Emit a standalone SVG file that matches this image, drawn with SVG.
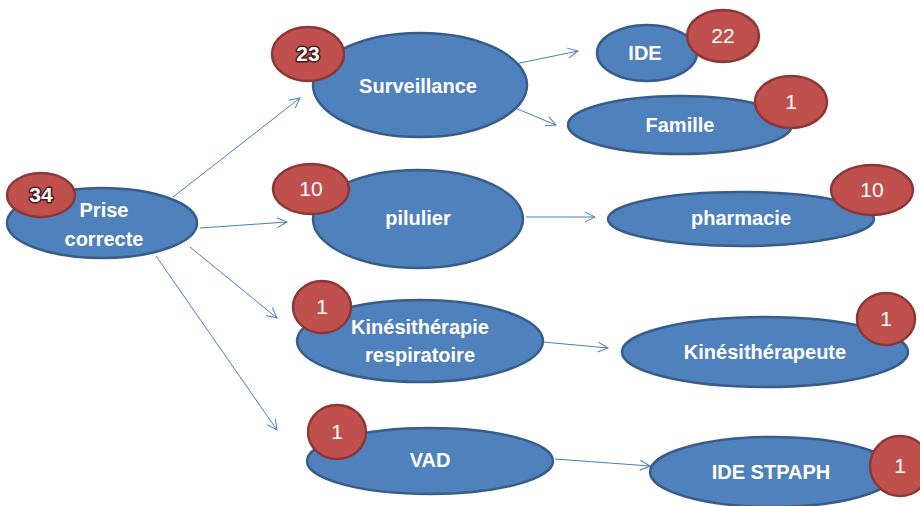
<svg xmlns="http://www.w3.org/2000/svg" width="920" height="506" viewBox="0 0 920 506">
<defs>
<style>
.n{fill:#4f81bd;stroke:#385d8a;stroke-width:2.5}
.b{fill:#c0504d;stroke:#8c3836;stroke-width:2.5}
.t{font-family:"Liberation Sans",Arial,sans-serif;font-weight:bold;font-size:20px;fill:#fff;text-anchor:middle}
.c{font-family:"Liberation Sans",Arial,sans-serif;font-size:21px;fill:#fff;text-anchor:middle}
.cb{font-family:"Liberation Sans",Arial,sans-serif;font-weight:bold;font-size:21px;fill:#fff;text-anchor:middle;stroke:#4a1a19;stroke-width:3;paint-order:stroke;stroke-linejoin:round}
.e{stroke:#4a7ebb;stroke-width:1;fill:none;marker-end:url(#a)}
</style>
<marker id="a" viewBox="0 0 12 12" refX="11" refY="6" markerWidth="12" markerHeight="12" markerUnits="userSpaceOnUse" orient="auto">
<path d="M1,1 L11,6 L1,11" fill="none" stroke="#4a7ebb" stroke-width="1"/>
</marker>
</defs>
<rect width="920" height="506" fill="#fff"/>
<g id="connectors">
<line class="e" x1="173" y1="197" x2="300" y2="98"/>
<line class="e" x1="200" y1="228" x2="287" y2="222"/>
<line class="e" x1="190" y1="247" x2="277" y2="318"/>
<line class="e" x1="156" y1="256" x2="277" y2="430"/>
<line class="e" x1="515" y1="64" x2="578" y2="51"/>
<line class="e" x1="515" y1="108" x2="556" y2="125"/>
<line class="e" x1="526" y1="217" x2="595" y2="217"/>
<line class="e" x1="543" y1="342" x2="608" y2="348"/>
<line class="e" x1="555" y1="459" x2="650" y2="466"/>
</g>
<g id="prise">
<ellipse class="n" cx="102" cy="223" rx="95" ry="35"/>
<text class="t" x="104" y="217">Prise</text>
<text class="t" x="104" y="246">correcte</text>
<ellipse class="b" cx="41" cy="195" rx="34" ry="22"/>
<text class="cb" x="41" y="202">34</text>
</g>
<g id="surveillance">
<ellipse class="n" cx="420" cy="85" rx="107" ry="52"/>
<text class="t" x="418" y="93">Surveillance</text>
<ellipse class="b" cx="308" cy="54" rx="36" ry="27"/>
<text class="cb" x="308" y="61">23</text>
</g>
<g id="ide">
<ellipse class="n" cx="647" cy="53" rx="50" ry="28"/>
<text class="t" x="645" y="60">IDE</text>
<ellipse class="b" cx="723" cy="36" rx="36" ry="26"/>
<text class="c" x="723" y="43">22</text>
</g>
<g id="famille">
<ellipse class="n" cx="680" cy="125" rx="112" ry="29"/>
<text class="t" x="680" y="132">Famille</text>
<ellipse class="b" cx="791" cy="102" rx="36" ry="26"/>
<text class="c" x="791" y="109">1</text>
</g>
<g id="pilulier">
<ellipse class="n" cx="418" cy="219" rx="105" ry="49"/>
<text class="t" x="418" y="225">pilulier</text>
<ellipse class="b" cx="311" cy="189" rx="38" ry="25"/>
<text class="c" x="311" y="196">10</text>
</g>
<g id="pharmacie">
<ellipse class="n" cx="741" cy="219" rx="133" ry="27"/>
<text class="t" x="741" y="225">pharmacie</text>
<ellipse class="b" cx="872" cy="190" rx="41" ry="25"/>
<text class="c" x="872" y="197">10</text>
</g>
<g id="kine">
<ellipse class="n" cx="420" cy="341" rx="123" ry="41"/>
<text class="t" x="420" y="334">Kinésithérapie</text>
<text class="t" x="420" y="362">respiratoire</text>
<ellipse class="b" cx="322" cy="307" rx="29" ry="26"/>
<text class="c" x="322" y="314">1</text>
</g>
<g id="kinesitherapeute">
<ellipse class="n" cx="765" cy="352" rx="143" ry="35"/>
<text class="t" x="765" y="359">Kinésithérapeute</text>
<ellipse class="b" cx="886" cy="319" rx="29" ry="26"/>
<text class="c" x="886" y="326">1</text>
</g>
<g id="vad">
<ellipse class="n" cx="430" cy="461" rx="123" ry="33"/>
<text class="t" x="430" y="467">VAD</text>
<ellipse class="b" cx="337" cy="432" rx="29" ry="27"/>
<text class="c" x="337" y="439">1</text>
</g>
<g id="idestpaph">
<ellipse class="n" cx="773" cy="472" rx="123" ry="35"/>
<text class="t" x="771" y="479">IDE STPAPH</text>
<ellipse class="b" cx="900" cy="466" rx="30" ry="30"/>
<text class="c" x="900" y="473">1</text>
</g>
</svg>
